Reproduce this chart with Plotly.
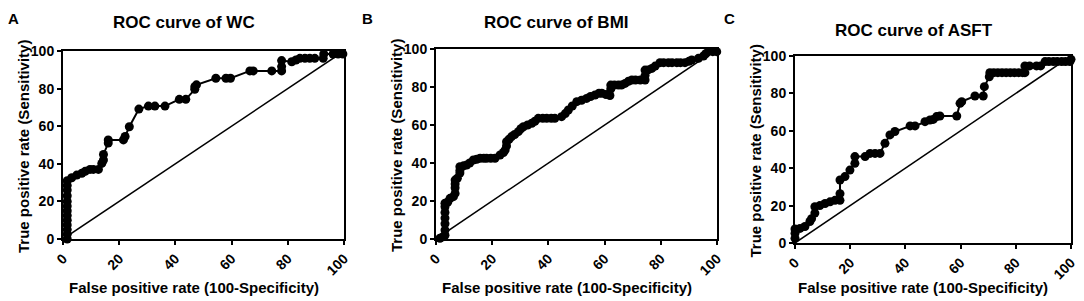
import plotly.graph_objects as go

# ---- data ----
panel_letters = ["A", "B", "C"]
panel_titles = ["ROC curve of WC", "ROC curve of BMI", "ROC curve of ASFT"]
x_ticks = [0, 20, 40, 60, 80, 100]
y_ticks = [0, 20, 40, 60, 80, 100]
x_title = "False positive rate (100-Specificity)"
y_title = "True positive rate (Sensitivity)"

wc_fpr = [1.5, 1.5, 1.5, 1.5, 1.5, 1.5, 1.5, 1.5, 1.5, 1.5, 1.5, 1.5, 1.5,
          3.1, 4.9, 6.7, 7.9, 9.6, 10.8, 12.6, 13.8, 14.4, 14.4, 16.1, 16.1,
          21.5, 22.1, 23.6, 27.0, 30.4, 32.7, 36.3, 41.4, 43.7, 46.9, 46.9,
          47.5, 54.4, 58.0, 59.6, 66.5, 67.7, 74.3, 77.8, 77.8, 77.8, 81.4,
          82.9, 84.3, 86.1, 87.8, 89.6, 92.6, 92.8, 96.1, 97.9, 99.6]
wc_tpr = [0.0, 2.5, 5.0, 7.5, 10.0, 12.5, 15.0, 17.5, 20.0, 23.0, 26.0, 28.5, 31.0,
          32.6, 34.0, 35.0, 36.0, 37.0, 37.0, 37.0, 40.2, 42.0, 45.0, 51.0, 52.7,
          52.7, 54.5, 59.7, 69.1, 70.7, 70.7, 70.7, 74.3, 74.3, 79.6, 81.0,
          82.0, 85.5, 85.5, 85.5, 89.4, 89.4, 89.4, 89.4, 91.7, 94.9, 94.3,
          95.2, 96.1, 96.1, 96.1, 96.1, 96.1, 98.4, 98.4, 98.4, 98.4]

bmi_fpr = [1.4, 2.5, 3.2, 3.2, 3.2, 3.2, 3.2, 3.2, 3.2, 4.2, 5.0, 6.2, 6.8, 6.8,
           6.8, 6.8, 7.6, 8.5, 8.5, 8.5, 9.8, 10.9, 12.0, 13.3, 14.5, 15.7, 17.0,
           18.0, 19.5, 21.0, 22.8, 24.0, 24.6, 25.1, 25.1, 26.0, 26.9, 28.0, 29.3,
           30.2, 31.1, 32.6, 34.1, 35.2, 36.4, 38.0, 39.4, 41.0, 42.3, 44.7, 46.0,
           47.1, 48.5, 50.1, 51.8, 53.6, 55.0, 56.6, 58.0, 59.0, 60.5, 61.9, 62.2,
           62.2, 63.5, 64.9, 66.0, 67.3, 68.5, 69.7, 71.0, 72.7, 74.4, 74.4, 74.4,
           75.5, 76.8, 78.0, 79.7, 81.0, 82.7, 84.0, 85.7, 87.0, 88.6, 90.0, 91.0,
           93.4, 95.2, 96.0, 96.9, 98.5, 99.9]
bmi_tpr = [0.4, 1.2, 2.0, 4.7, 8.0, 11.0, 14.0, 17.0, 18.8, 19.5, 21.4, 22.3, 24.0, 27.0,
           29.0, 31.0, 32.0, 34.7, 36.0, 38.0, 38.5, 38.9, 40.0, 41.6, 42.0, 42.5, 42.5,
           42.5, 42.5, 42.5, 44.2, 45.5, 46.8, 49.0, 51.2, 52.5, 53.9, 55.0, 56.5,
           58.0, 59.1, 60.0, 60.9, 62.0, 63.5, 63.5, 63.5, 63.5, 63.5, 64.4, 66.0,
           67.9, 70.0, 72.3, 73.0, 74.0, 75.0, 75.8, 76.7, 76.7, 76.0, 75.5, 79.0,
           81.0, 81.0, 81.0, 81.0, 81.9, 83.0, 83.7, 83.7, 83.7, 83.7, 86.0, 88.9,
           89.0, 89.8, 91.0, 92.8, 92.8, 92.8, 92.8, 92.8, 92.8, 92.8, 93.5, 94.2,
           95.1, 96.3, 97.5, 98.6, 98.6, 98.6]

asft_fpr = [0.0, 0.0, 0.0, 1.8, 3.6, 5.4, 6.0, 7.2, 7.2, 9.0, 10.9, 12.7, 14.5,
            16.3, 16.3, 16.3, 18.1, 19.9, 21.7, 21.7, 25.4, 27.2, 29.0, 30.8,
            32.6, 34.4, 36.2, 41.7, 43.5, 47.1, 48.9, 50.1, 51.3, 52.5, 58.6,
            59.8, 60.4, 65.2, 68.2, 68.6, 70.4, 70.6, 72.0, 73.5, 75.0, 76.5,
            78.0, 79.5, 81.0, 82.5, 83.3, 83.3, 85.0, 87.5, 89.0, 90.6, 92.0,
            93.6, 95.0, 96.6, 98.0, 99.6, 100.0]
asft_tpr = [2.5, 5.2, 7.5, 7.8, 8.8, 11.5, 13.0, 16.0, 19.4, 20.0, 21.1, 22.0, 22.8,
            22.8, 26.4, 33.7, 35.5, 39.0, 42.6, 46.2, 46.2, 47.9, 47.9, 47.9,
            53.3, 57.8, 59.6, 62.6, 62.6, 64.9, 65.8, 66.1, 67.6, 67.9, 67.9,
            74.7, 75.6, 78.6, 78.6, 83.6, 88.9, 91.1, 91.1, 91.1, 91.1, 91.1,
            91.1, 91.1, 91.1, 91.1, 91.1, 94.7, 94.7, 94.7, 94.7, 97.0, 97.0,
            97.0, 97.0, 97.0, 97.0, 97.0, 98.2]

ref_x = [0, 100]
ref_y = [0, 100]

series = [(wc_fpr, wc_tpr), (bmi_fpr, bmi_tpr), (asft_fpr, asft_tpr)]

# ---- layout geometry: positions in window pixels, page has an 8px body margin ----
OFF = 8
W, H = 1084 - OFF, 301 - OFF
def px(v):
    return (v - OFF) / W
def py(v):
    return 1 - (v - OFF) / H

x_domains = [(63, 344), (436, 717), (795, 1071)]
y_domains = [(51, 239), (49, 239), (56, 243)]
letter_x = [13, 367, 729]
title_y = [22, 23, 30]
xtitle_y = 287

FONT = "Liberation Sans, Arial, sans-serif"

fig = go.Figure()
for i, (fx, fy) in enumerate(series):
    xa = "x" if i == 0 else f"x{i+1}"
    ya = "y" if i == 0 else f"y{i+1}"
    fig.add_trace(go.Scatter(x=ref_x, y=ref_y, mode="lines",
                             line=dict(color="black", width=1.5),
                             xaxis=xa, yaxis=ya, showlegend=False,
                             hoverinfo="skip", cliponaxis=False))
    fig.add_trace(go.Scatter(x=fx, y=fy, mode="lines+markers",
                             line=dict(color="black", width=2),
                             marker=dict(color="black", size=9, symbol="circle"),
                             xaxis=xa, yaxis=ya, showlegend=False,
                             cliponaxis=False))

layout = dict(width=W, height=H, margin=dict(l=0, r=0, t=0, b=0, autoexpand=False),
              paper_bgcolor="white", plot_bgcolor="white",
              font=dict(family=FONT, color="black"), showlegend=False)

annotations = []
for i in range(3):
    xk = "xaxis" if i == 0 else f"xaxis{i+1}"
    yk = "yaxis" if i == 0 else f"yaxis{i+1}"
    ya_ref = "y" if i == 0 else f"y{i+1}"
    xa_ref = "x" if i == 0 else f"x{i+1}"
    x0, x1 = x_domains[i]
    y0, y1 = y_domains[i]
    common = dict(showgrid=False, zeroline=False, showline=True, linewidth=2,
                  linecolor="black", mirror=True, ticks="outside", ticklen=4,
                  tickwidth=2, tickcolor="black", automargin=False,
                  tickfont=dict(family=FONT, size=14, color="black", weight="bold"))
    layout[xk] = dict(domain=[px(x0), px(x1)], range=[0, 100], tickvals=x_ticks,
                      ticktext=[str(t) for t in x_ticks], tickangle=-45,
                      anchor=ya_ref, **common)
    layout[yk] = dict(domain=[py(y1), py(y0)], range=[0, 100], tickvals=y_ticks,
                      ticktext=[str(t) for t in y_ticks], anchor=xa_ref, **common)
    annotations.append(dict(text=panel_letters[i], x=px(letter_x[i]), y=1,
                            xref="paper", yref="paper", showarrow=False,
                            xanchor="center", yanchor="top",
                            font=dict(family=FONT, size=15, color="black", weight="bold")))
    annotations.append(dict(text=panel_titles[i], x=0.43, y=py(title_y[i]),
                            xref=f"{xa_ref} domain", yref="paper", showarrow=False,
                            xanchor="center", yanchor="middle",
                            font=dict(family=FONT, size=17, color="black", weight="bold")))
    cx = (x0 + x1) / 2 - 10
    annotations.append(dict(text=x_title, x=px(cx), y=py(xtitle_y),
                            xref="paper", yref="paper", showarrow=False,
                            xanchor="center", yanchor="middle",
                            font=dict(family=FONT, size=15, color="black", weight="bold")))
    annotations.append(dict(text=y_title, x=px(x0 - 40), y=py((y0 + y1) / 2 + 2),
                            xref="paper", yref="paper", showarrow=False, textangle=-90,
                            xanchor="center", yanchor="middle",
                            font=dict(family=FONT, size=15, color="black", weight="bold")))

layout["annotations"] = annotations
fig.update_layout(**layout)
fig.write_html("out.html")
